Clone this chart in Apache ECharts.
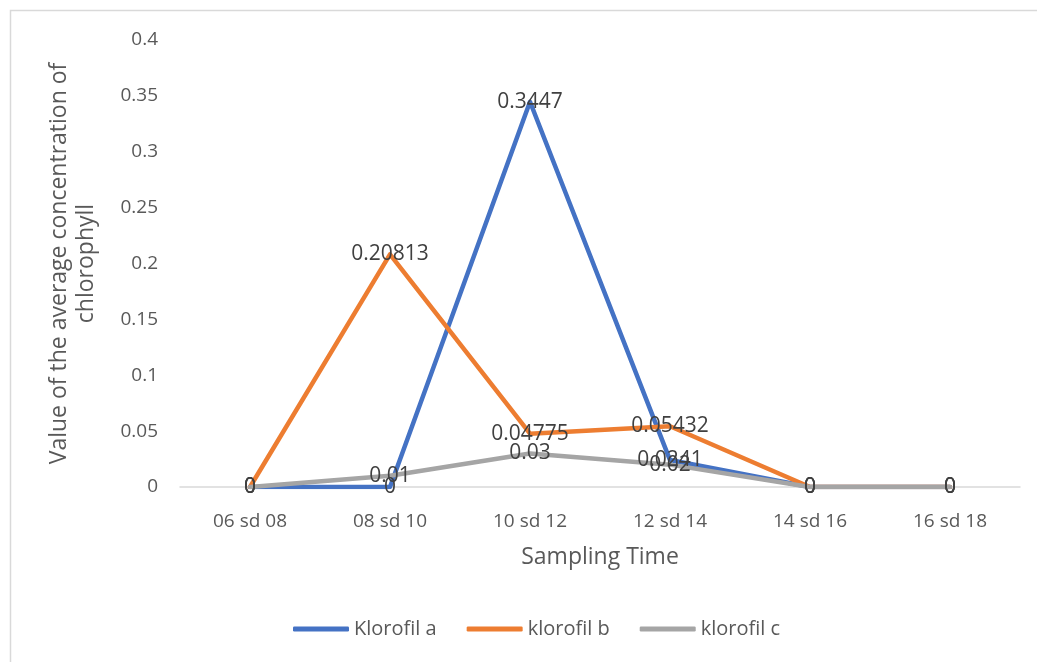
<!DOCTYPE html>
<html><head><meta charset="utf-8">
<script src="https://cdn.jsdelivr.net/npm/echarts@6/dist/echarts.min.js"></script>
<style>html,body{margin:0;padding:0;background:#fff}#c{width:1037px;height:662px}</style>
</head><body><div id="c"></div>
<script>
const categories = ['06 sd 08','08 sd 10','10 sd 12','12 sd 14','14 sd 16','16 sd 18'];
const klorofilA = [0, 0, 0.3447, 0.0241, 0, 0];
const klorofilB = [0, 0.20813, 0.04775, 0.05432, 0, 0];
const klorofilC = [0, 0.01, 0.03, 0.02, 0, 0];
const yTicks = [0, 0.05, 0.1, 0.15, 0.2, 0.25, 0.3, 0.35, 0.4];

const font = 'Open Sans';
const chart = echarts.init(document.getElementById('c'));
function mk(name, data, color) {
  return {
    name, type: 'line', data, symbol: 'circle', symbolSize: 0.5, showSymbol: true, z: 2,
    lineStyle: {color, width: 4.5, cap: 'round', join: 'round'},
    itemStyle: {color},
    label: {show: true, position: 'inside', color: '#404040', fontSize: 21, fontFamily: font,
      formatter: p => String(p.value)},
    labelLayout: {hideOverlap: false},
    emphasis: {disabled: true}
  };
}
chart.setOption({
  animation: false,
  graphic: [{type: 'rect', shape: {x: 10.5, y: 10.5, width: 1040, height: 660},
    style: {fill: 'none', stroke: '#d9d9d9', lineWidth: 1.5}, z: -1}],
  grid: {left: 180, right: 17, top: 40, bottom: 175, containLabel: false},
  legend: {
    bottom: 18, left: 288, itemWidth: 56, itemHeight: 5, itemGap: 30,
    icon: 'roundRect',
    textStyle: {color: '#595959', fontSize: 20, fontFamily: font},
    data: ['Klorofil a', 'klorofil b', 'klorofil c']
  },
  xAxis: {
    type: 'category', data: categories, boundaryGap: true,
    name: 'Sampling Time', nameLocation: 'middle', nameGap: 59,
    nameTextStyle: {color: '#595959', fontSize: 23, fontFamily: font},
    axisLine: {lineStyle: {color: '#d9d9d9', width: 1.5}},
    axisTick: {show: false},
    axisLabel: {color: '#595959', fontSize: 19, fontFamily: font, margin: 25},
    splitLine: {show: false}
  },
  yAxis: {
    type: 'value', min: 0, max: 0.4, interval: 0.05,
    name: 'Value of the average concentration of\nchlorophyll', nameLocation: 'middle', nameGap: 80,
    nameTextStyle: {color: '#595959', fontSize: 23, fontFamily: font, lineHeight: 27},
    axisLine: {show: false}, axisTick: {show: false},
    axisLabel: {color: '#595959', fontSize: 19, fontFamily: font, margin: 22,
      formatter: v => { const t = yTicks.find(x => Math.abs(x - v) < 1e-9); return String(t !== undefined ? t : v); }},
    splitLine: {show: false}
  },
  series: [
    mk('Klorofil a', klorofilA, '#4472C4'),
    mk('klorofil b', klorofilB, '#ED7D31'),
    mk('klorofil c', klorofilC, '#A5A5A5')
  ]
});
</script></body></html>
